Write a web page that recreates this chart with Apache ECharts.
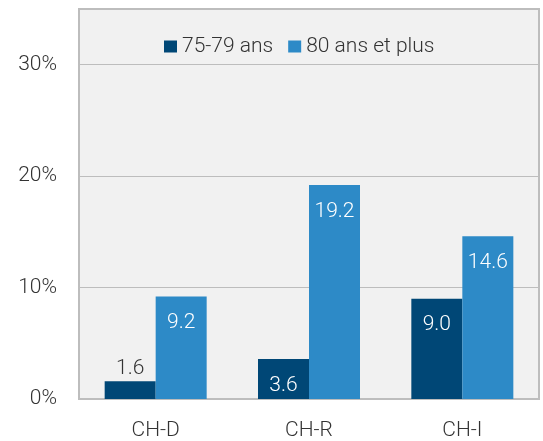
<!DOCTYPE html>
<html>
<head>
    <meta charset="utf-8" />
    <title>75-79 ans / 80 ans et plus</title>
    <script src="https://cdn.jsdelivr.net/npm/echarts@6/dist/echarts.min.js"></script>
    <style>
        html, body { margin: 0; padding: 0; background: #fff; }
        #main { width: 543px; height: 441px; }
    </style>
</head>
<body>
    <div id="main"></div>
    <script type="text/javascript">
        var categories = ['CH-D', 'CH-R', 'CH-I'];
        var seriesNames = ['75-79 ans', '80 ans et plus'];
        var values7579 = [1.6, 3.6, 9.0];
        var values80 = [9.2, 19.2, 14.6];
        var colors = ['#004776', '#2d8ac7'];

        var font = 'Roboto';
        var textColor = '#333333';

        // small values don't fit inside the bar, put their label above it
        function barData(values) {
            return values.map(function (v) {
                if (v < 3) {
                    return {
                        value: v,
                        label: { position: 'top', distance: 2, color: textColor }
                    };
                }
                return v;
            });
        }

        var chart = echarts.init(document.getElementById('main'));
        var option = {
            animation: false,
            textStyle: { fontFamily: font, fontWeight: 300 },
            legend: {
                data: seriesNames,
                top: 31,
                left: 159,
                itemWidth: 13,
                itemHeight: 12,
                itemGap: 15,
                icon: 'rect',
                textStyle: { fontFamily: font, fontWeight: 300, fontSize: 21, color: textColor, padding: [0, 0, 0, 0] }
            },
            grid: {
                left: 79,
                right: 4,
                top: 9,
                bottom: 40,
                show: true,
                backgroundColor: '#f1f1f1',
                borderColor: '#bdbdbd',
                borderWidth: 2,
                containLabel: false
            },
            xAxis: {
                type: 'category',
                data: categories,
                axisLine: { show: false },
                axisTick: { show: false },
                axisLabel: { fontFamily: font, fontWeight: 300, fontSize: 21, color: textColor, margin: 21 }
            },
            yAxis: {
                type: 'value',
                min: 0,
                max: 35,
                interval: 10,
                axisLine: { show: false },
                axisTick: { show: false },
                splitLine: { lineStyle: { color: '#bdbdbd', width: 1 } },
                axisLabel: {
                    fontFamily: font, fontWeight: 300, fontSize: 21, color: textColor, margin: 22,
                    showMaxLabel: false,
                    formatter: function (v) { return v + '%'; }
                }
            },
            series: [{
                name: seriesNames[0],
                type: 'bar',
                data: barData(values7579),
                barWidth: 51,
                barGap: '0%',
                itemStyle: { color: colors[0] },
                label: {
                    show: true, position: 'insideTop', distance: 16,
                    fontFamily: font, fontWeight: 300, fontSize: 21, color: '#ffffff',
                    formatter: function (p) { return p.value.toFixed(1); }
                }
            }, {
                name: seriesNames[1],
                type: 'bar',
                data: barData(values80),
                barWidth: 51,
                barGap: '0%',
                itemStyle: { color: colors[1] },
                label: {
                    show: true, position: 'insideTop', distance: 16,
                    fontFamily: font, fontWeight: 300, fontSize: 21, color: '#ffffff',
                    formatter: function (p) { return p.value.toFixed(1); }
                }
            }]
        };
        chart.setOption(option, true);
    </script>
</body>
</html>
